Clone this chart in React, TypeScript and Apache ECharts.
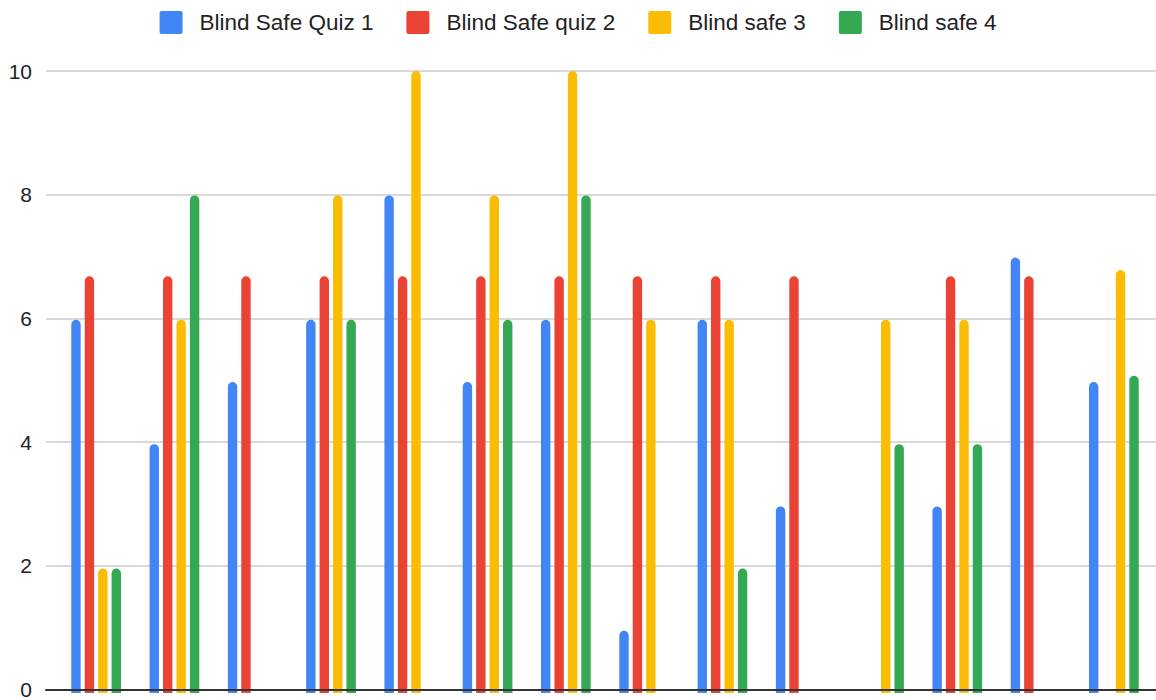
import React, { useEffect, useRef } from "react";
import * as echarts from "echarts";

const categories = ["1", "2", "3", "4", "5", "6", "7", "8", "9", "10", "11", "12", "13", "14"];
const quiz1 = [6, 4, 5, 6, 8, 5, 6, 1, 6, 3, null, 3, 7, 5];
const quiz2 = [6.7, 6.7, 6.7, 6.7, 6.7, 6.7, 6.7, 6.7, 6.7, 6.7, null, 6.7, 6.7, null];
const safe3 = [2, 6, null, 8, 10, 8, 10, 6, 6, null, 6, 6, null, 6.8];
const safe4 = [2, 8, null, 6, null, 6, 8, null, 2, null, 4, 4, null, 5.1];
const seriesNames = ["Blind Safe Quiz 1", "Blind Safe quiz 2", "Blind safe 3", "Blind safe 4"];
const colors = ["#4285F4", "#EA4335", "#FBBC04", "#34A853"];
const yTicks = { min: 0, max: 10, interval: 2 };

const squareIcon =
  "path://M2,0 H21 A2,2 0 0 1 23,2 V21 A2,2 0 0 1 21,23 H2 A2,2 0 0 1 0,21 V2 A2,2 0 0 1 2,0 Z";

export default function App() {
  const ref = useRef<HTMLDivElement>(null);
  useEffect(() => {
    if (!ref.current) return;
    const chart = echarts.init(ref.current, undefined, { renderer: "svg" });
    const font = "Arial, 'Liberation Sans', sans-serif";
    const datas = [quiz1, quiz2, safe3, safe4];
    chart.setOption({
      animation: false,
      color: colors,
      legend: {
        top: 6,
        left: "center",
        itemWidth: 23,
        itemHeight: 23,
        itemGap: 33,
        icon: squareIcon,
        textStyle: {
          fontSize: 22.5,
          lineHeight: 23,
          color: "#222",
          fontFamily: font,
          padding: [0, 0, 0, 12],
        },
        data: seriesNames,
      },
      grid: [
        { left: 57, right: 3, top: 71, bottom: 7, containLabel: false },
        { left: 46, right: 0, top: 71, bottom: 7, containLabel: false },
      ],
      xAxis: [
        {
          type: "category",
          gridIndex: 0,
          data: categories,
          axisLine: { show: false },
          axisTick: { show: false },
          axisLabel: { show: false },
        },
        {
          type: "category",
          gridIndex: 1,
          data: categories,
          axisLine: { show: true, lineStyle: { color: "#333", width: 2 } },
          axisTick: { show: false },
          axisLabel: { show: false },
          z: 5,
        },
      ],
      yAxis: [
        {
          type: "value",
          gridIndex: 0,
          ...yTicks,
          show: false,
          splitLine: { show: false },
        },
        {
          type: "value",
          gridIndex: 1,
          ...yTicks,
          axisLine: { show: false },
          axisTick: { show: false },
          axisLabel: { fontSize: 21, color: "#222", fontFamily: font, margin: 14 },
          splitLine: { lineStyle: { color: "#ccc", width: 1.5 } },
        },
      ],
      series: seriesNames.map((name, i) => ({
        name,
        type: "bar",
        xAxisIndex: 0,
        yAxisIndex: 0,
        data: datas[i],
        barWidth: 9.4,
        barGap: "43%",
        itemStyle: { color: colors[i], borderRadius: [5, 5, 0, 0] },
        z: 3,
      })),
    });
    return () => chart.dispose();
  }, []);
  return <div ref={ref} style={{ width: 1156, height: 700, position: "absolute", left: 0, top: 0 }} />;
}
